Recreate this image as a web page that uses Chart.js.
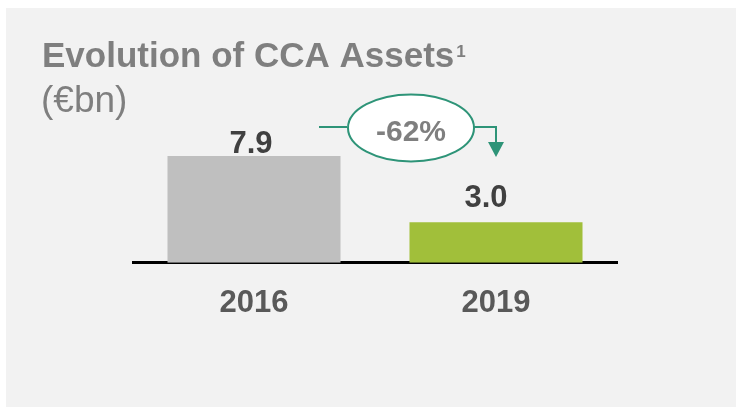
<!DOCTYPE html>
<html>
<head>
<meta charset="utf-8">
<script src="https://cdn.jsdelivr.net/npm/chart.js@4"></script>
<style>
  html, body { margin: 0; padding: 0; background: #fff; }
  canvas { display: block; }
</style>
</head>
<body>
<canvas id="my-chart" width="736" height="407"></canvas>
<script>
var years = ['2016', '2019'];
var assets = [7.9, 3.0];
var valueLabels = ['7.9', '3.0'];
var changeLabel = '-62%';

var FONT = '"Liberation Sans", Arial, sans-serif';

// label nudges, same as in the slide
var labelShift = [[-3, -3], [-10, -15]];

var decor = {
    id: 'decor',
    beforeDraw: function (chart) {
        var c = chart.ctx;
        c.save();
        c.fillStyle = '#f2f2f2';
        c.fillRect(6, 8, 730, 399);

        c.fillStyle = '#7f7f7f';
        c.textBaseline = 'alphabetic';
        c.textAlign = 'left';
        c.font = 'bold 35px ' + FONT;
        var t = 'Evolution of CCA Assets';
        c.fillText(t, 42, 67);
        var w = c.measureText(t).width;
        c.font = 'bold 17px ' + FONT;
        c.fillText('1', 42 + w + 2, 57);
        c.font = '37px ' + FONT;
        c.fillText('(\u20acbn)', 41, 112);
        c.restore();
    },
    afterDatasetsDraw: function (chart) {
        var c = chart.ctx;
        var bars = chart.getDatasetMeta(0).data;
        c.save();

        // value labels
        c.fillStyle = '#404040';
        c.font = 'bold 31px ' + FONT;
        c.textAlign = 'center';
        c.textBaseline = 'alphabetic';
        bars.forEach(function (b, i) {
            c.fillText(valueLabels[i], b.x + labelShift[i][0], b.y + labelShift[i][1]);
        });

        // change bubble + arrow
        var b1 = bars[0], b2 = bars[1];
        var ly = b1.y - 29;
        var cx = b2.x - 85, cy = b1.y - 28;
        c.strokeStyle = '#2e9478';
        c.fillStyle = '#2e9478';
        c.lineWidth = 2;
        c.beginPath();
        c.moveTo(b1.x + 65, ly);
        c.lineTo(cx - 64, ly);
        c.moveTo(cx + 63, ly);
        c.lineTo(b2.x, ly);
        c.lineTo(b2.x, ly + 16);
        c.stroke();
        c.beginPath();
        c.moveTo(b2.x - 8, ly + 15);
        c.lineTo(b2.x + 8, ly + 15);
        c.lineTo(b2.x, ly + 30);
        c.closePath();
        c.fill();

        c.beginPath();
        c.ellipse(cx, cy, 63, 33.5, 0, 0, Math.PI * 2);
        c.fillStyle = '#ffffff';
        c.fill();
        c.stroke();

        c.fillStyle = '#7f7f7f';
        c.font = 'bold 30px ' + FONT;
        c.fillText(changeLabel, cx, cy + 13);
        c.restore();
    }
};

var ctx = document.getElementById('my-chart').getContext('2d');
var myChart = new Chart(ctx, {
    type: 'bar',
    data: {
        labels: years,
        datasets: [{
            data: assets,
            backgroundColor: ['#bfbfbf', '#a1bf3a'],
            barPercentage: 0.715,
            categoryPercentage: 1
        }]
    },
    options: {
        responsive: false,
        animation: false,
        layout: {
            padding: { left: 133, right: 119, top: 127.5, bottom: 63 }
        },
        plugins: {
            legend: { display: false },
            tooltip: { enabled: false }
        },
        scales: {
            x: {
                grid: { display: false, drawTicks: false },
                border: { display: true, color: '#000000', width: 3 },
                ticks: {
                    color: '#595959',
                    padding: 22,
                    font: { family: FONT, size: 31, weight: 'bold' }
                }
            },
            y: {
                display: false,
                min: 0,
                max: 10
            }
        }
    },
    plugins: [decor]
});
</script>
</body>
</html>
